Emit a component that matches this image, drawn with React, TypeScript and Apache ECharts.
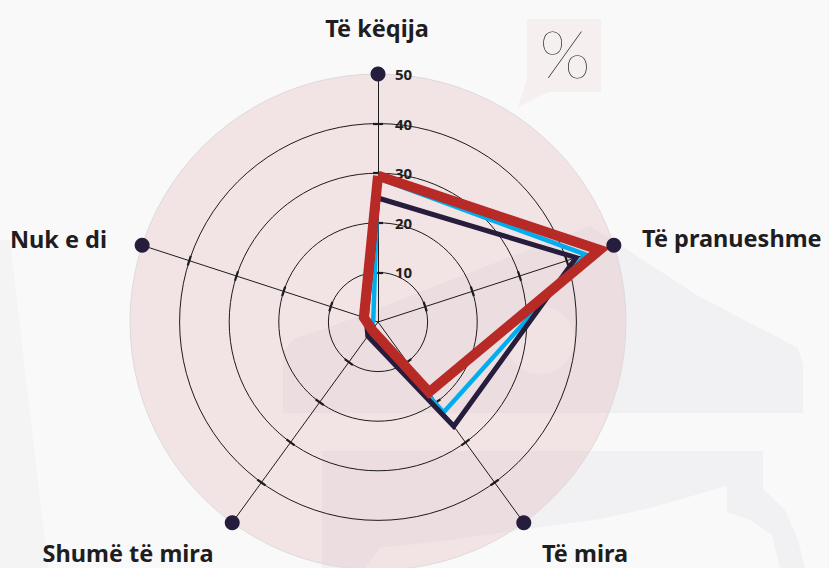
import React, { useEffect, useRef } from "react";
import * as echarts from "echarts";

// Categories listed clockwise from the top axis
const categories = ["Të këqija", "Të pranueshme", "Të mira", "Shumë të mira", "Nuk e di"];
const seriesBlue = [29, 44, 22.5, 2.5, 1];
const seriesNavy = [25, 42, 26, 3.5, 2.5];
const seriesRed = [29.5, 47, 17.5, 2, 3];
const maxValue = 50;
const tickValues = [10, 20, 30, 40];
const scaleLabels = [10, 20, 30, 40, 50];
const unitLabel = "%";

// ECharts radar runs counter-clockwise; reorder clockwise data for it
const ccwOrder = [0, 4, 3, 2, 1];
const reorder = (arr: any[]) => ccwOrder.map((i) => arr[i]);

const LABEL_FONT = "'Noto Sans', 'Open Sans', sans-serif";

export default function App() {
  const ref = useRef<HTMLDivElement>(null);
  useEffect(() => {
    if (!ref.current) return;
    const chart = echarts.init(ref.current, undefined, { renderer: "svg" });
    const orderedCats = reorder(categories);
    const indicatorsBase = orderedCats.map((name) => ({ name, max: maxValue, min: 0 }));
    const center = [378, 322];
    const radius = 248;
    const axisInk = "#1e1b1d";

    const tickRadar = (len: number, withLabels: boolean) => ({
      center,
      radius,
      startAngle: 90,
      shape: "circle",
      splitNumber: 5,
      indicator: indicatorsBase.map((ind, i) => {
        const o: any = { ...ind };
        if (withLabels && i === 0) {
          o.axisLabel = {
            show: true,
            margin: -17,
            align: "left",
            verticalAlign: "middle",
            color: "#231f20",
            fontFamily: LABEL_FONT,
            fontWeight: "bold",
            fontSize: 15,
            customValues: scaleLabels,
            formatter: (v: number) => (v === 0 ? "" : String(v)),
          };
        }
        return o;
      }),
      axisName: { show: false },
      axisLine: { show: false },
      splitLine: { show: false },
      splitArea: { show: false },
      axisLabel: { show: false },
      axisTick: {
        show: true,
        inside: false,
        length: len,
        customValues: tickValues,
        lineStyle: { color: axisInk, width: 2.2 },
      },
    });

    const watermark = "#f1f1f3";
    const labelStyle = {
      fill: "#211d1e",
      fontFamily: LABEL_FONT,
      fontWeight: "bold",
      fontSize: 23.5,
    };
    const labelPos: Record<string, any> = {
      "Të këqija": { x: 377, y: 28, align: "center" },
      "Të pranueshme": { x: 642, y: 238, align: "left" },
      "Të mira": { x: 585, y: 553, align: "center" },
      "Shumë të mira": { x: 128, y: 553, align: "center" },
      "Nuk e di": { x: 107, y: 239, align: "right" },
    };

    chart.setOption({
      animation: false,
      backgroundColor: "#f9f9f9",
      graphic: [
        {
          type: "polygon",
          z: 0,
          silent: true,
          shape: {
            points: [
              [283, 413], [283, 352], [295, 338], [330, 327], [590, 226], [620, 245],
              [700, 297], [783, 340], [798, 348], [803, 365], [803, 413],
            ],
          },
          style: { fill: watermark },
        },
        {
          type: "circle",
          z: 0,
          silent: true,
          shape: { cx: 540, cy: 340, r: 34 },
          style: { fill: "#f7f7f8" },
        },
        {
          type: "polygon",
          z: 0,
          silent: true,
          shape: {
            points: [
              [322, 451], [763, 451], [763, 490], [730, 485], [650, 508], [600, 519],
              [520, 530], [450, 540], [380, 548], [365, 568], [322, 568],
            ],
          },
          style: { fill: watermark },
        },
        {
          type: "polygon",
          z: 0,
          silent: true,
          shape: {
            points: [
              [727, 483], [760, 486], [785, 510], [798, 540], [805, 568], [780, 568],
              [772, 535], [750, 520], [727, 512],
            ],
          },
          style: { fill: watermark },
        },
        {
          type: "polygon",
          z: 0,
          silent: true,
          shape: { points: [[0, 240], [10, 240], [48, 568], [0, 568]] },
          style: { fill: "#f4f4f5" },
        },
        {
          type: "rect",
          z: 0,
          silent: true,
          shape: { x: 527, y: 19, width: 74, height: 73 },
          style: { fill: "#f5efef" },
        },
        {
          type: "polygon",
          z: 0,
          silent: true,
          shape: { points: [[527, 78], [518, 107], [548, 92], [527, 92]] },
          style: { fill: "#f5efef" },
        },
        {
          type: "text",
          z: 5,
          silent: true,
          x: 565,
          y: 52,
          style: {
            text: unitLabel,
            fill: "#1f1f1f",
            fontFamily: "'Lato Hairline', 'Lato Thin', 'Lato Light', Lato, sans-serif",
            fontWeight: 100,
            fontSize: 67,
            align: "center",
            verticalAlign: "middle",
          },
        },
        ...categories.map((name) => ({
          type: "text",
          z: 5,
          silent: true,
          x: labelPos[name].x,
          y: labelPos[name].y,
          style: {
            ...labelStyle,
            text: name,
            align: labelPos[name].align,
            verticalAlign: "middle",
          },
        })),
      ],
      radar: [
        {
          center,
          radius,
          startAngle: 90,
          shape: "circle",
          splitNumber: 5,
          indicator: indicatorsBase,
          axisName: { show: false },
          axisLine: { show: true, lineStyle: { color: axisInk, width: 1 } },
          axisTick: { show: false },
          axisLabel: { show: false },
          splitLine: {
            show: true,
            lineStyle: {
              color: [axisInk, axisInk, axisInk, axisInk, axisInk, "#dedada"],
              width: 1,
            },
          },
          splitArea: {
            show: true,
            areaStyle: { color: ["rgba(200,83,92,0.12)"] },
          },
        },
        tickRadar(5, true),
        tickRadar(-5, false),
      ],
      series: [
        {
          type: "radar",
          radarIndex: 0,
          symbol: "none",
          silent: true,
          lineStyle: { color: "#00aeef", width: 4.5, join: "miter" },
          itemStyle: { color: "#00aeef" },
          data: [{ value: reorder(seriesBlue), name: "Blu" }],
          z: 3,
        },
        {
          type: "radar",
          radarIndex: 0,
          symbol: "none",
          silent: true,
          lineStyle: { color: "#261c3b", width: 5, join: "miter" },
          itemStyle: { color: "#261c3b" },
          data: [{ value: reorder(seriesNavy), name: "Blu e errët" }],
          z: 4,
        },
        {
          type: "radar",
          radarIndex: 0,
          symbol: "none",
          silent: true,
          lineStyle: { color: "#b72a26", width: 10, join: "miter" },
          itemStyle: { color: "#b72a26" },
          data: [{ value: reorder(seriesRed), name: "E kuqe" }],
          z: 5,
        },
        {
          type: "radar",
          radarIndex: 0,
          symbol: "circle",
          symbolSize: 15,
          silent: true,
          lineStyle: { width: 0, opacity: 0 },
          itemStyle: { color: "#261d3c" },
          data: [{ value: categories.map(() => maxValue), name: "max" }],
          z: 6,
        },
      ],
    });
    return () => chart.dispose();
  }, []);
  return (
    <div
      ref={ref}
      style={{ position: "fixed", left: 0, top: 0, width: 829, height: 568 }}
    />
  );
}
